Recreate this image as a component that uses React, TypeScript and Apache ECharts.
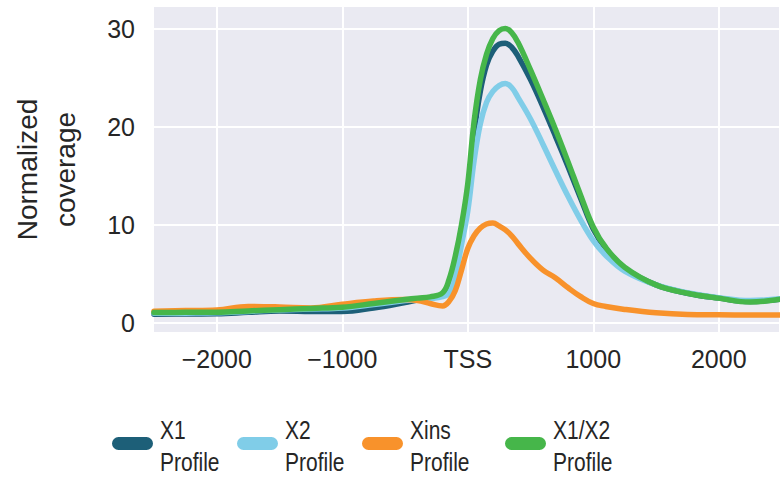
import React, { useEffect, useRef } from "react";
import * as echarts from "echarts";

const positions = [-2500, -2250, -2000, -1750, -1500, -1250, -1000, -750, -500, -400, -300, -200, -150, -100, -50, 0, 50, 100, 150, 200, 250, 300, 350, 400, 500, 600, 700, 800, 900, 1000, 1100, 1250, 1500, 1750, 2000, 2250, 2500];

const x1Profile = [0.92, 0.93, 0.95, 1.1, 1.25, 1.2, 1.18, 1.55, 2.1, 2.35, 2.55, 2.9, 3.8, 5.8, 8.8, 13.0, 19.3, 23.6, 26.3, 27.7, 28.4, 28.5, 28.1, 27.2, 24.8, 22.0, 19.0, 15.9, 12.7, 9.6, 7.6, 5.6, 3.9, 3.05, 2.55, 2.2, 2.45];
const x2Profile = [1.0, 1.02, 1.05, 1.2, 1.35, 1.45, 1.55, 1.9, 2.3, 2.4, 2.5, 2.7, 3.05, 4.8, 8.0, 11.4, 16.5, 20.3, 22.5, 23.6, 24.2, 24.4, 24.0, 23.0, 20.8, 18.2, 15.5, 12.9, 10.5, 8.4, 6.9, 5.3, 3.9, 3.1, 2.6, 2.3, 2.5];
const xinsProfile = [1.22, 1.28, 1.35, 1.7, 1.65, 1.55, 1.93, 2.25, 2.4, 2.3, 2.0, 1.75, 2.2, 3.3, 5.4, 7.6, 8.9, 9.7, 10.1, 10.2, 9.9, 9.5, 8.9, 8.1, 6.6, 5.4, 4.6, 3.6, 2.7, 2.0, 1.7, 1.4, 1.05, 0.88, 0.85, 0.84, 0.84];
const x1x2Profile = [1.08, 1.1, 1.12, 1.25, 1.37, 1.5, 1.63, 2.0, 2.4, 2.55, 2.68, 3.1, 4.4, 6.8, 10.0, 14.2, 20.5, 24.8, 27.4, 29.0, 29.8, 30.0, 29.6, 28.6, 25.8, 22.8, 19.7, 16.4, 13.0, 9.8, 7.7, 5.7, 3.9, 3.05, 2.55, 2.15, 2.45];

const xTicks = [-2000, -1000, 0, 1000, 2000];
const yTicks = [0, 10, 20, 30];

const seriesNames = ["X1\nProfile", "X2\nProfile", "Xins\nProfile", "X1/X2\nProfile"];
const seriesColors = ["#1d5f78", "#80cde8", "#f8922b", "#46b64a"];
const seriesValues = [x1Profile, x2Profile, xinsProfile, x1x2Profile];

const legendX = [112, 237, 362, 505];

const FONT = "'Liberation Sans', Arial, sans-serif";
const LEGEND_FONT = "'Liberation Sans', Arial, sans-serif";

export default function App() {
  const ref = useRef<HTMLDivElement>(null);
  useEffect(() => {
    if (!ref.current) return;
    const chart = echarts.init(ref.current, undefined, { renderer: "svg" });
    const legendGraphics: any[] = [];
    seriesNames.forEach((name, i) => {
      legendGraphics.push({
        type: "rect",
        left: legendX[i],
        top: 437,
        shape: { width: 41, height: 13, r: 6.5 },
        style: { fill: seriesColors[i] },
      });
      legendGraphics.push({
        type: "text",
        x: legendX[i] + 48,
        y: 414,
        scaleX: 0.84,
        style: {
          text: name,
          font: `25px ${LEGEND_FONT}`,
          fill: "#262626",
          lineHeight: 32,
        },
      });
    });
    chart.setOption({
      animation: false,
      backgroundColor: "#ffffff",
      grid: {
        left: 154, right: 1, top: 7, bottom: 156,
        containLabel: false, outerBoundsMode: "none",
        backgroundColor: "#eaeaf2", show: true, borderWidth: 0,
      },
      xAxis: {
        type: "value",
        min: -2500,
        max: 2480,
        axisLine: { show: false },
        axisTick: { show: false, customValues: xTicks },
        splitLine: { show: true, lineStyle: { color: "#ffffff", width: 2 } },
        axisLabel: {
          customValues: xTicks,
          margin: 14,
          color: "#262626",
          fontSize: 25,
          fontFamily: FONT,
          formatter: (v: number) => (v === 0 ? "TSS" : v < 0 ? "\u2212" + Math.abs(v) : String(v)),
        },
      },
      yAxis: {
        type: "value",
        min: -0.9,
        max: 32.2,
        name: "Normalized\ncoverage",
        nameLocation: "middle",
        nameRotate: 90,
        nameGap: 70,
        nameMoveOverlap: false,
        nameTextStyle: { fontSize: 28, fontFamily: FONT, color: "#262626", lineHeight: 38 },
        axisLine: { show: false },
        axisTick: { show: false, customValues: yTicks },
        splitLine: { show: true, lineStyle: { color: "#ffffff", width: 2 } },
        axisLabel: {
          customValues: yTicks,
          margin: 19,
          color: "#262626",
          fontSize: 25,
          fontFamily: FONT,
        },
      },
      series: seriesNames.map((name, i) => ({
        name,
        type: "line",
        smooth: 0.4,
        showSymbol: false,
        symbol: "none",
        data: positions.map((p, j) => [p, seriesValues[i][j]]),
        lineStyle: { color: seriesColors[i], width: 5.5, cap: "round", join: "round" },
        itemStyle: { color: seriesColors[i] },
        z: 2 + i,
      })),
      graphic: legendGraphics,
    });
    return () => chart.dispose();
  }, []);
  return <div ref={ref} style={{ width: 780, height: 488, position: "absolute", left: 0, top: 0 }} />;
}
